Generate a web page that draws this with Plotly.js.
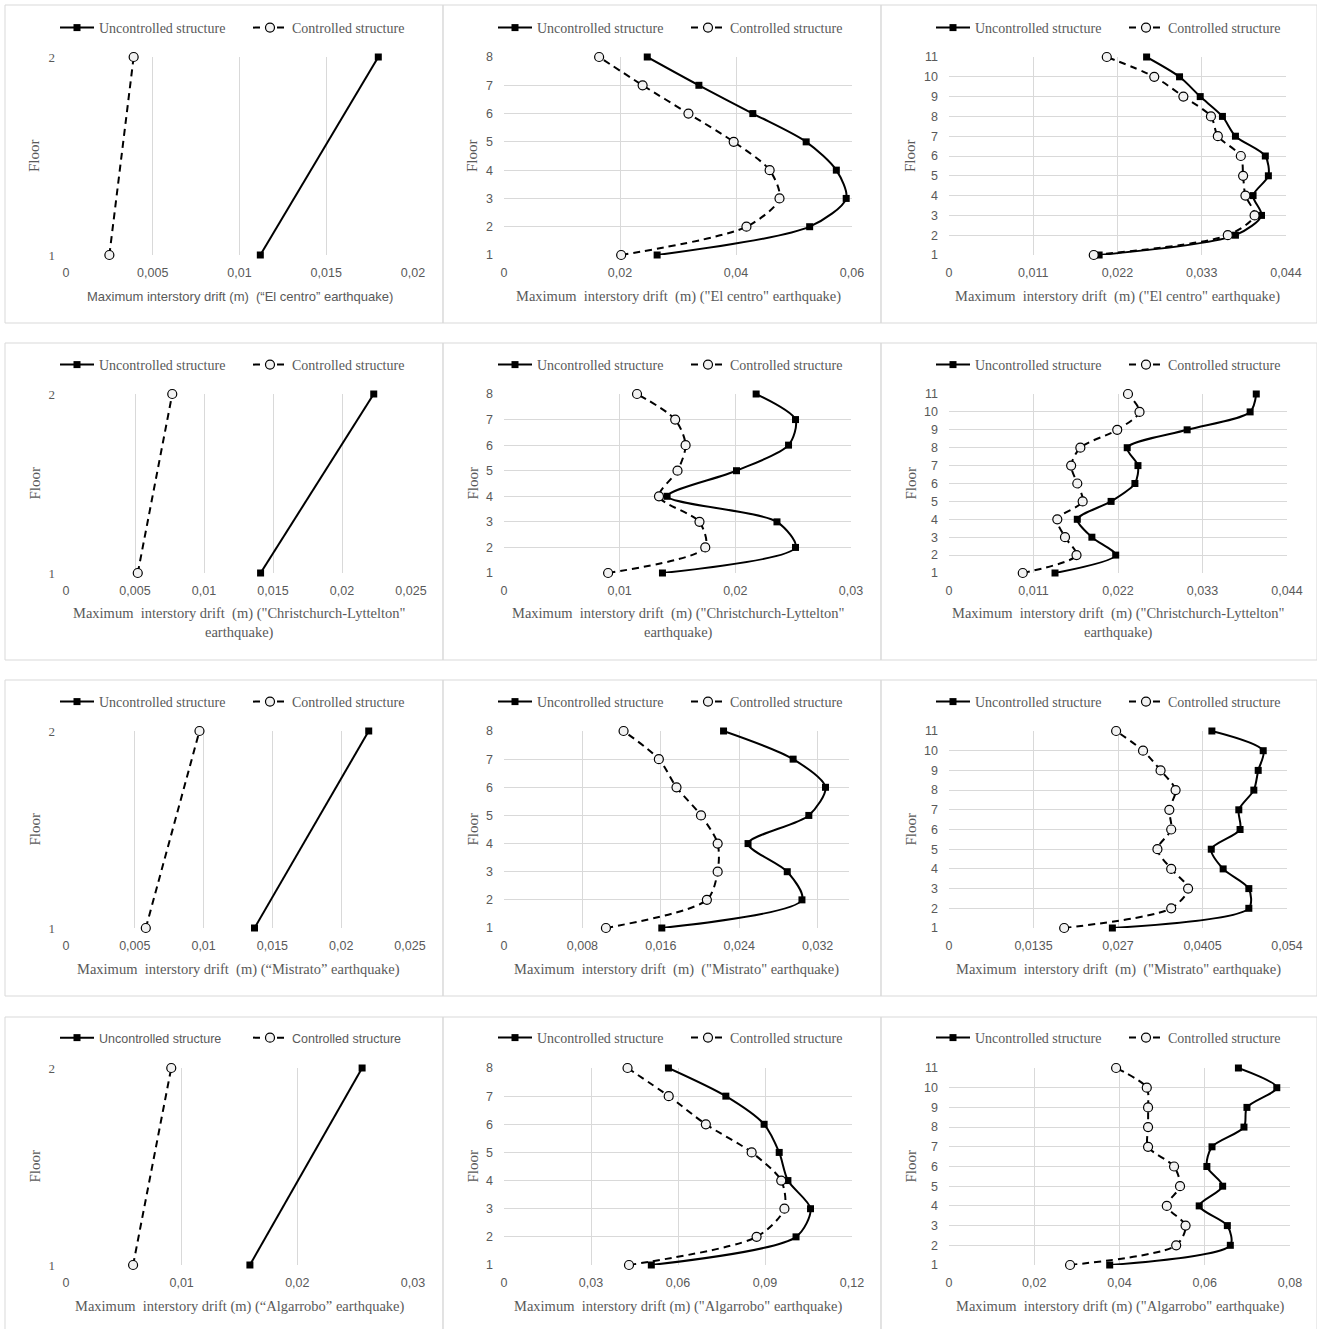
<!DOCTYPE html>
<html><head><meta charset="utf-8">
<script src="https://cdn.plot.ly/plotly-3.0.1.min.js"></script>
<style>html,body{margin:0;padding:0;overflow:hidden;background:#fff}#chart{width:100vw;height:100vh;display:block}</style>
</head><body><div id="chart"></div>
<script>
// ---------- DATA ----------
const floors2 = [1, 2];
const floors8 = [1, 2, 3, 4, 5, 6, 7, 8];
const floors11 = [1, 2, 3, 4, 5, 6, 7, 8, 9, 10, 11];
const seriesNames = ["Uncontrolled structure", "Controlled structure"];

// El Centro
const elCentro2Unc = [0.0112, 0.0180];
const elCentro2Con = [0.0025, 0.0039];
const elCentro8Unc = [0.0264, 0.0527, 0.0590, 0.0573, 0.0521, 0.0429, 0.0336, 0.0247];
const elCentro8Con = [0.0202, 0.0418, 0.0475, 0.0458, 0.0396, 0.0318, 0.0239, 0.0164];
const elCentro11Unc = [0.0196, 0.0374, 0.0408, 0.0397, 0.0417, 0.0413, 0.0374, 0.0357, 0.0328, 0.0301, 0.0258];
const elCentro11Con = [0.0189, 0.0364, 0.0399, 0.0387, 0.0384, 0.0381, 0.0351, 0.0342, 0.0306, 0.0268, 0.0206];

// Christchurch-Lyttelton
const christ2Unc = [0.0141, 0.0223];
const christ2Con = [0.0052, 0.0077];
const christ8Unc = [0.0137, 0.0252, 0.0236, 0.0141, 0.0201, 0.0246, 0.0252, 0.0218];
const christ8Con = [0.0090, 0.0174, 0.0169, 0.0134, 0.0150, 0.0157, 0.0148, 0.0115];
const christ11Unc = [0.0138, 0.0217, 0.0186, 0.0167, 0.0211, 0.0242, 0.0246, 0.0232, 0.0310, 0.0392, 0.0400];
const christ11Con = [0.0096, 0.0166, 0.0151, 0.0141, 0.0174, 0.0167, 0.0159, 0.0171, 0.0219, 0.0248, 0.0233];

// Mistrato
const mistrato2Unc = [0.0137, 0.0220];
const mistrato2Con = [0.0058, 0.0097];
const mistrato8Unc = [0.0161, 0.0304, 0.0289, 0.0249, 0.0311, 0.0328, 0.0295, 0.0224];
const mistrato8Con = [0.0104, 0.0207, 0.0218, 0.0218, 0.0201, 0.0176, 0.0158, 0.0122];
const mistrato11Unc = [0.0261, 0.0479, 0.0479, 0.0438, 0.0419, 0.0465, 0.0463, 0.0487, 0.0494, 0.0502, 0.0420];
const mistrato11Con = [0.0184, 0.0355, 0.0382, 0.0355, 0.0333, 0.0355, 0.0352, 0.0362, 0.0338, 0.0310, 0.0267];

// Algarrobo
const algarrobo2Unc = [0.0159, 0.0256];
const algarrobo2Con = [0.0058, 0.0091];
const algarrobo8Unc = [0.0508, 0.1007, 0.1057, 0.0979, 0.0949, 0.0897, 0.0765, 0.0567];
const algarrobo8Con = [0.0431, 0.0871, 0.0967, 0.0956, 0.0854, 0.0696, 0.0568, 0.0426];
const algarrobo11Unc = [0.0377, 0.0660, 0.0653, 0.0587, 0.0642, 0.0605, 0.0617, 0.0692, 0.0699, 0.0769, 0.0679];
const algarrobo11Con = [0.0284, 0.0533, 0.0555, 0.0511, 0.0542, 0.0528, 0.0467, 0.0467, 0.0467, 0.0464, 0.0392];

// Tick values / labels
const ticks002 = [0, 0.005, 0.01, 0.015, 0.02];
const labels002 = ["0", "0,005", "0,01", "0,015", "0,02"];
const ticks006 = [0, 0.02, 0.04, 0.06];
const labels006 = ["0", "0,02", "0,04", "0,06"];
const ticks0044 = [0, 0.011, 0.022, 0.033, 0.044];
const labels0044 = ["0", "0,011", "0,022", "0,033", "0,044"];
const ticks0025 = [0, 0.005, 0.01, 0.015, 0.02, 0.025];
const labels0025 = ["0", "0,005", "0,01", "0,015", "0,02", "0,025"];
const ticks003 = [0, 0.01, 0.02, 0.03];
const labels003 = ["0", "0,01", "0,02", "0,03"];
const ticks0032 = [0, 0.008, 0.016, 0.024, 0.032];
const labels0032 = ["0", "0,008", "0,016", "0,024", "0,032"];
const ticks0054 = [0, 0.0135, 0.027, 0.0405, 0.054];
const labels0054 = ["0", "0,0135", "0,027", "0,0405", "0,054"];
const ticks012 = [0, 0.03, 0.06, 0.09, 0.12];
const labels012 = ["0", "0,03", "0,06", "0,09", "0,12"];
const ticks008 = [0, 0.02, 0.04, 0.06, 0.08];
const labels008 = ["0", "0,02", "0,04", "0,06", "0,08"];

const titleElCentroA = "Maximum interstory drift (m)  (“El centro” earthquake)";
const titleElCentroB = "Maximum  interstory drift  (m) (\"El centro\" earthquake)";
const titleChrist = "Maximum  interstory drift  (m) (\"Christchurch-Lyttelton\"<br>earthquake)";
const titleMistratoA = "Maximum  interstory drift  (m) (“Mistrato” earthquake)";
const titleMistratoB = "Maximum  interstory drift  (m)  (\"Mistrato\" earthquake)";
const titleAlgarroboA = "Maximum  interstory drift (m) (“Algarrobo” earthquake)";
const titleAlgarroboB = "Maximum  interstory drift (m) (\"Algarrobo\" earthquake)";

// ---------- PANELS ----------
const panels = [
  {y: floors2, unc: elCentro2Unc, con: elCentro2Con, tv: ticks002, tt: labels002, xmax: 0.02, title: titleElCentroA, titleSans: true},
  {y: floors8, unc: elCentro8Unc, con: elCentro8Con, tv: ticks006, tt: labels006, xmax: 0.06, title: titleElCentroB},
  {y: floors11, unc: elCentro11Unc, con: elCentro11Con, tv: ticks0044, tt: labels0044, xmax: 0.044, title: titleElCentroB},
  {y: floors2, unc: christ2Unc, con: christ2Con, tv: ticks0025, tt: labels0025, xmax: 0.025, title: titleChrist},
  {y: floors8, unc: christ8Unc, con: christ8Con, tv: ticks003, tt: labels003, xmax: 0.03, title: titleChrist},
  {y: floors11, unc: christ11Unc, con: christ11Con, tv: ticks0044, tt: labels0044, xmax: 0.044, title: titleChrist},
  {y: floors2, unc: mistrato2Unc, con: mistrato2Con, tv: ticks0025, tt: labels0025, xmax: 0.025, title: titleMistratoA},
  {y: floors8, unc: mistrato8Unc, con: mistrato8Con, tv: ticks0032, tt: labels0032, xmax: 0.0352, title: titleMistratoB},
  {y: floors11, unc: mistrato11Unc, con: mistrato11Con, tv: ticks0054, tt: labels0054, xmax: 0.054, title: titleMistratoB},
  {y: floors2, unc: algarrobo2Unc, con: algarrobo2Con, tv: ticks003, tt: labels003, xmax: 0.03, title: titleAlgarroboA, legendSans: true},
  {y: floors8, unc: algarrobo8Unc, con: algarrobo8Con, tv: ticks012, tt: labels012, xmax: 0.12, title: titleAlgarroboB},
  {y: floors11, unc: algarrobo11Unc, con: algarrobo11Con, tv: ticks008, tt: labels008, xmax: 0.08, title: titleAlgarroboB}
];

// ---------- GEOMETRY (reference pixels, converted to paper fractions) ----------
const W = 1317, H = 1329;
const PW = window.innerWidth || W, PH = window.innerHeight || H;
const rowPlotY = [[57, 255], [394, 573], [731, 928], [1068, 1265]];
const colPlotX0 = [66, 504, 949];
const colPlotX1 = [[413, 411, 410, 413], [852, 851, 849, 852], [1286, 1287, 1287, 1290]];
const rowLegendY = [28, 365, 702, 1038];
const rowTitleY = [296, 623, 969, 1306];
const colLegendX = [55, 493, 931];
const colFloorX = [34, 472, 910];
const boxX = [[5, 443], [443, 881], [881, 1317]];
const boxY = [[5, 323], [343, 660], [680, 996], [1017, 1332]];

const TXT = "#595959";
const SERIF = "Liberation Serif, Times New Roman, serif";
const SANS = "Liberation Sans, Arial, sans-serif";

const data = [];
const layout = {
  width: PW, height: PH, autosize: false,
  margin: {l: 0, r: 0, t: 0, b: 0},
  paper_bgcolor: "#ffffff", plot_bgcolor: "#ffffff",
  separators: ",.",
  shapes: [], annotations: []
};

panels.forEach((p, i) => {
  const row = Math.floor(i / 3), col = i % 3;
  const n = i + 1;
  const xa = n === 1 ? "x" : "x" + n;
  const ya = n === 1 ? "y" : "y" + n;
  const legKey = n === 1 ? "legend" : "legend" + n;
  const x0 = colPlotX0[col], x1 = colPlotX1[col][row];
  const [yt, yb] = rowPlotY[row];
  const dx = [x0 / W, x1 / W];
  const dy = [1 - yb / H, 1 - yt / H];
  const smooth = p.y.length > 2 ? "spline" : "linear";

  data.push({
    type: "scatter", mode: "lines+markers", name: seriesNames[0],
    x: p.unc, y: p.y, xaxis: xa, yaxis: ya, legend: legKey,
    line: {color: "#000", width: 2, shape: smooth, smoothing: 0.8},
    marker: {symbol: "square", size: 7, color: "#000"},
    cliponaxis: false, hoverinfo: "x+y"
  });
  data.push({
    type: "scatter", mode: "lines+markers", name: seriesNames[1],
    x: p.con, y: p.y, xaxis: xa, yaxis: ya, legend: legKey,
    line: {color: "#000", width: 2, dash: "7px,5px", shape: smooth, smoothing: 0.8},
    marker: {symbol: "circle", size: 9, color: "#f2f2f2", line: {color: "#000", width: 1.2}},
    cliponaxis: false, hoverinfo: "x+y"
  });

  layout["xaxis" + (n === 1 ? "" : n)] = {
    domain: dx, anchor: ya, range: [0, p.xmax],
    tickvals: p.tv, ticktext: p.tt, ticks: "", ticklabelstandoff: 8,
    showgrid: true, gridcolor: "#d9d9d9", gridwidth: 1,
    zeroline: false, showline: false, fixedrange: true,
    tickfont: {family: SANS, size: 12.5, color: TXT}
  };
  layout["yaxis" + (n === 1 ? "" : n)] = {
    domain: dy, anchor: xa, range: [1, p.y.length],
    tickvals: p.y, ticktext: p.y.map(String), ticks: "", ticklabelstandoff: 10,
    showgrid: true, gridcolor: "#d9d9d9", gridwidth: 1,
    zeroline: false, showline: false, fixedrange: true,
    tickfont: {family: col === 0 ? SERIF : SANS, size: col === 0 ? 13 : 12.5, color: TXT}
  };
  layout[legKey] = {
    x: colLegendX[col] / W, y: 1 - rowLegendY[row] / H,
    xanchor: "left", yanchor: "middle", orientation: "h",
    bgcolor: "rgba(0,0,0,0)", borderwidth: 0,
    itemwidth: 34, entrywidth: 144, entrywidthmode: "pixels",
    font: p.legendSans ? {family: SANS, size: 12.5, color: TXT} : {family: SERIF, size: 14, color: TXT},
    itemclick: false, itemdoubleclick: false
  };
  layout.shapes.push({
    type: "rect", xref: "paper", yref: "paper", layer: "below",
    x0: boxX[col][0] / W, x1: boxX[col][1] / W,
    y0: 1 - boxY[row][1] / H, y1: 1 - boxY[row][0] / H,
    line: {color: "#d9d9d9", width: 1}, fillcolor: "rgba(0,0,0,0)"
  });
  layout.annotations.push({
    xref: "paper", yref: "paper", x: (dx[0] + dx[1]) / 2, y: 1 - rowTitleY[row] / H,
    xanchor: "center", yanchor: "middle", showarrow: false, align: "center",
    text: p.title,
    font: p.titleSans ? {family: SANS, size: 13, color: TXT} : {family: SERIF, size: 14.5, color: TXT}
  });
  layout.annotations.push({
    xref: "paper", yref: "paper", x: colFloorX[col] / W, y: (dy[0] + dy[1]) / 2,
    xanchor: "center", yanchor: "middle", showarrow: false, textangle: -90,
    text: "Floor", font: {family: SERIF, size: 15, color: TXT}
  });
});

Plotly.newPlot("chart", data, layout, {staticPlot: true, displayModeBar: false});
</script>
</body></html>
